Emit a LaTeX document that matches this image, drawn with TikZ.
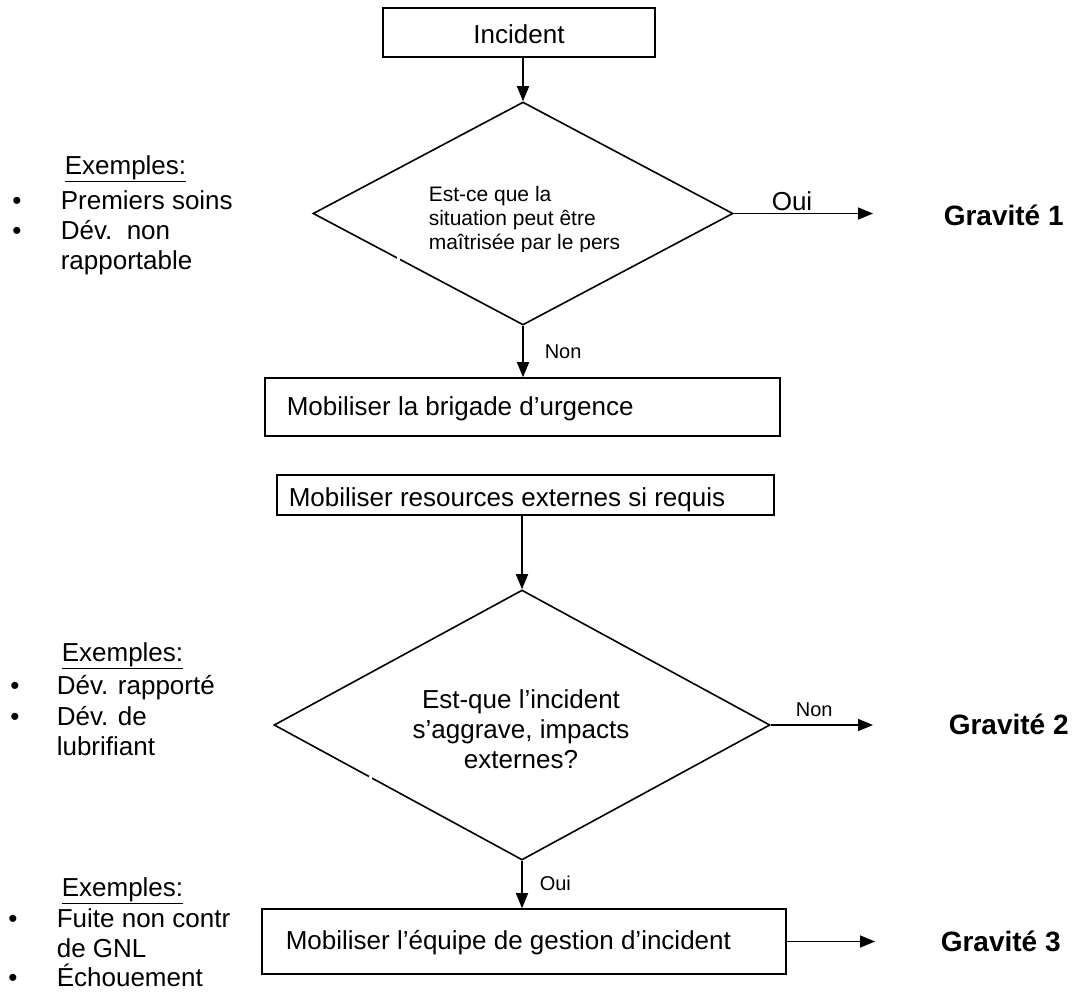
\documentclass[tikz,border=0pt]{standalone}
\usepackage{fontspec}
\setmainfont{Liberation Sans}
\usetikzlibrary{arrows.meta,shapes.geometric}
\begin{document}
\begin{tikzpicture}[x=1pt,y=-1pt,line width=1.6pt,
  flow/.style={-{Triangle[length=15pt,width=12pt]}},
  stepbox/.style={draw,rectangle,inner sep=0pt},
  decision/.style={draw,diamond,inner sep=0pt},
  txt/.style={inner sep=0pt,anchor=base west,font=\fontsize{26}{30}\selectfont},
  qtxt/.style={inner sep=0pt,anchor=base west,font=\fontsize{21}{24}\selectfont},
  small/.style={inner sep=0pt,anchor=base west,font=\fontsize{20}{24}\selectfont},
  level/.style={inner sep=0pt,anchor=base west,font=\fontsize{28}{32}\selectfont\bfseries},
  dot/.style={inner sep=0pt,anchor=base,font=\fontsize{26}{30}\selectfont}]
\useasboundingbox (0,0) rectangle (1081,991);

% main flow: boxes and decisions
\node[stepbox,minimum width=272pt,minimum height=49pt] (inc) at (519,32.5) {};
\node[txt,anchor=base] (inct) at (519,43) {Incident};

\node[decision,minimum width=420pt,minimum height=223pt] (d1) at (523,213.5) {};
\node[qtxt] (q1a) at (428,201.5) {Est-ce que la};
\node[qtxt] (q1b) at (428,225.5) {situation peut être};
\begin{scope}
  \clip (400,230) rectangle (700,251);
  \node[qtxt] (q1c) at (428,249.5) {maîtrisée par le pers};
\end{scope}

\node[stepbox,minimum width=515pt,minimum height=58pt] (brig) at (522.5,407) {};
\node[txt] (brigt) at (286,415) {Mobiliser la brigade d’urgence};

\node[stepbox,minimum width=497pt,minimum height=40pt] (res) at (525.5,495) {};
\node[txt] (rest) at (288,506) {Mobiliser resources externes si requis};

\node[decision,minimum width=496pt,minimum height=270pt] (d2) at (522,725) {};
\node[txt,anchor=base] (q2a) at (521,708) {Est-que l’incident};
\node[txt,anchor=base] (q2b) at (521,738) {s’aggrave, impacts};
\node[txt,anchor=base] (q2c) at (521,768) {externes?};

\node[stepbox,minimum width=524pt,minimum height=65pt] (mgmt) at (524,941.5) {};
\node[txt] (mgmtt) at (285,949) {Mobiliser l’équipe de gestion d’incident};

% small breaks in the lower-left edges of the decisions
\fill[white] (397.2,257.3) rectangle (400.2,260.8);
\fill[white] (368.8,776.0) rectangle (371.8,779.5);

% end points of the severity arrows
\coordinate (g1a) at (873,0);
\coordinate (g2a) at (873,0);
\coordinate (g3a) at (875,0);

% connectors
\draw[flow] (inc.south -| d1.north) -- (d1.north);
\draw[flow] (d1.east) -- (d1.east -| g1a);
\draw[flow] (d1.south) -- (d1.south |- brig.north);
\draw[flow] (res.south -| d2.north) -- (d2.north);
\draw[flow] (d2.east) -- (d2.east -| g2a);
\draw[flow] (d2.south) -- (d2.south |- mgmt.north);
\draw[flow] (mgmt.east) -- (mgmt.east -| g3a);

% connector labels
\node[txt,anchor=base] (oui1) at (792,210) {Oui};
\node[small] (non1) at (544,358) {Non};
\node[small] (non2) at (795,716) {Non};
\node[small] (oui2) at (539,890) {Oui};

% severity levels
\node[level] (g1) at (943,225) {Gravité 1};
\node[level] (g2) at (948,734) {Gravité 2};
\node[level] (g3) at (940,951) {Gravité 3};

% examples, level 1
\node[txt] (ex1) at (64,174) {\underline{Exemples:}};
\node[dot] (b11) at (17,209) {•};
\node[txt] (e11) at (60,209) {Premiers soins};
\node[dot] (b12) at (17,239) {•};
\node[txt] (e12) at (60,239) {Dév.\ \ non};
\node[txt] (e13) at (60,269) {rapportable};

% examples, level 2
\node[txt] (ex2) at (61,661) {\underline{Exemples:}};
\node[dot] (b21) at (15,694) {•};
\node[txt] (e21) at (56,694) {Dév. rapporté};
\node[dot] (b22) at (15,725) {•};
\node[txt] (e22) at (56,725) {Dév. de};
\node[txt] (e23) at (56,755) {lubrifiant};

% examples, level 3
\node[txt] (ex3) at (61,896) {\underline{Exemples:}};
\node[dot] (b31) at (13,927) {•};
\node[txt] (e31) at (56,927) {Fuite non contr};
\node[txt] (e32) at (56,957) {de GNL};
\node[dot] (b32) at (13,986) {•};
\node[txt] (e33) at (56,986) {Échouement};
\end{tikzpicture}
\end{document}
